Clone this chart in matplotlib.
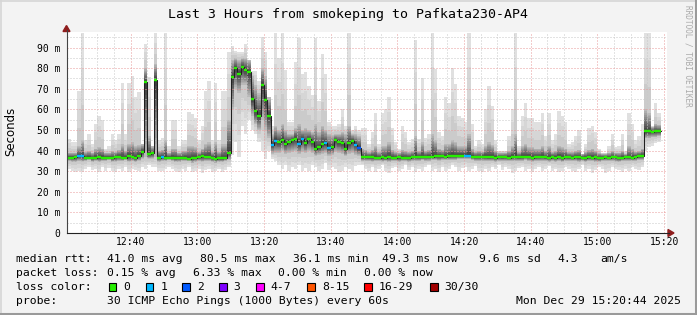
import numpy as np
import matplotlib
matplotlib.use("Agg")
import matplotlib.pyplot as plt
from matplotlib.lines import Line2D
from matplotlib.patches import Polygon, Rectangle
from matplotlib.transforms import Affine2D

# ------------------------------------------------------------------ data
first_minute = 21          # first 1-minute column, minutes after 12:00
view_start = 20.733        # 12:20:44
view_end = 200.733         # 15:20:44

median_ms = [
    36.6, 36.6, 36.8, 37.2, 37.2, 36.4, 36.6, 36.5, 36.5, 36.7,
    36.5, 36.6, 36.6, 36.4, 36.8, 37.0, 36.5, 36.6, 37.2, 36.9,
    36.4, 37.6, 39.3, 73.1, 38.2, 38.6, 74.2, 36.6, 36.8, 36.6,
    36.6, 36.5, 36.4, 36.6, 36.4, 36.6, 36.1, 36.4, 36.6, 36.7,
    37.2, 36.8, 36.8, 36.5, 36.1, 36.2, 36.2, 36.4, 39.0, 75.5,
    80.0, 77.4, 80.5, 79.2, 78.3, 65.0, 59.0, 56.7, 71.8, 64.7,
    57.0, 42.8, 44.8, 44.1, 45.3, 43.2, 44.3, 45.1, 45.6, 43.0,
    45.7, 43.5, 45.4, 44.1, 40.9, 41.5, 43.0, 43.5, 41.4, 41.5,
    45.1, 44.1, 43.5, 40.7, 43.5, 44.6, 42.8, 41.3, 36.7, 36.8,
    36.7, 36.9, 36.6, 36.5, 36.7, 36.3, 36.8, 36.6, 36.5, 36.7,
    36.6, 36.5, 36.6, 36.8, 37.0, 36.9, 36.8, 37.0, 37.1, 37.0,
    37.2, 37.3, 37.2, 37.0, 37.2, 37.4, 37.3, 37.5, 37.5, 37.6,
    37.6, 37.0, 36.9, 36.8, 37.1, 36.9, 36.7, 36.8, 36.6, 36.8,
    36.7, 36.9, 36.6, 36.8, 37.0, 36.7, 36.9, 37.1, 37.0, 36.6,
    36.7, 36.8, 37.0, 36.7, 36.6, 36.7, 36.6, 36.8, 36.5, 36.9,
    36.7, 36.6, 36.9, 36.7, 36.6, 36.5, 36.7, 36.6, 36.8, 36.4,
    36.6, 36.7, 36.6, 36.8, 36.9, 36.5, 36.6, 36.8, 36.7, 36.6,
    37.0, 37.2, 37.4, 49.3, 49.4, 49.2, 49.3, 49.3,
]

loss_pings = [
    0, 0, 0, 1, 1, 0, 0, 0, 0, 0,
    0, 0, 0, 0, 0, 0, 0, 0, 0, 0,
    0, 0, 0, 0, 0, 0, 0, 0, 1, 0,
    0, 0, 0, 0, 0, 0, 0, 0, 0, 0,
    0, 0, 0, 0, 0, 0, 0, 0, 0, 0,
    0, 0, 0, 0, 0, 0, 0, 0, 0, 0,
    0, 1, 1, 0, 0, 0, 0, 0, 0, 1,
    1, 0, 0, 0, 0, 0, 0, 1, 1, 0,
    0, 0, 0, 0, 0, 0, 1, 2, 0, 0,
    0, 0, 0, 0, 0, 0, 0, 0, 0, 0,
    0, 0, 0, 0, 0, 0, 0, 0, 0, 0,
    0, 0, 0, 0, 0, 0, 0, 0, 0, 1,
    1, 0, 0, 0, 0, 0, 0, 0, 0, 0,
    0, 0, 0, 0, 0, 0, 0, 0, 0, 0,
    0, 0, 0, 0, 0, 0, 0, 0, 0, 0,
    0, 0, 0, 0, 0, 0, 0, 0, 0, 0,
    0, 0, 0, 0, 0, 0, 0, 0, 0, 0,
    0, 0, 0, 0, 0, 0, 0, 0,
]

smoke_min = [
    31, 30, 29.5, 30, 29.5, 31, 32, 30.5, 31, 29.5,
    32, 30, 31.5, 30, 29.5, 31, 30, 32, 29.5, 31,
    30.5, 30, 32, 31, 33, 32, 32, 30, 30, 31,
    32, 31, 30, 29.5, 31, 30, 32, 29.5, 30, 31,
    29, 30.5, 31, 29.5, 30, 31, 29.5, 30.5, 32, 38,
    44, 37, 52, 48, 55, 50, 48, 44, 40, 36,
    40, 36, 35, 33, 31, 33, 30, 32, 31, 33,
    30, 31.5, 30, 33, 32, 30, 31, 34, 30.5, 32,
    31, 29.5, 30, 32, 31, 30, 32.5, 33, 33, 31,
    30, 32, 29.5, 31, 33, 30, 29, 31.5, 32, 30,
    31, 33, 30.5, 32, 29.5, 31, 30, 32, 33, 30,
    31, 29.5, 32, 30, 31, 33, 32, 30, 31.5, 32,
    30, 31, 32.5, 30, 29.5, 31, 30, 32, 31, 33,
    30.5, 32, 31, 29, 30, 31.5, 32, 30, 31, 29.5,
    31, 32, 30, 31, 32.5, 30, 31, 29.5, 30, 32,
    31, 30, 29.5, 31, 33, 30, 31, 29, 30.5, 32,
    31, 29, 30, 32, 31, 30.5, 29.5, 31, 30, 32,
    31, 30.5, 32, 40, 41.5, 42, 43.5, 44,
]

smoke_p10 = [
    35, 34.5, 34.5, 35, 34.5, 35, 35.5, 34.5, 35, 34.5,
    35, 35, 35.5, 34.5, 34.5, 35, 35, 35.5, 34.5, 35,
    34.5, 35, 36, 37, 36, 36, 37, 34.5, 35, 35,
    35.5, 35, 34.5, 34.5, 35, 35, 35, 34, 34.5, 35,
    34.5, 35, 35, 34.5, 34, 34.5, 34.5, 35, 35.5, 60,
    70, 68, 72, 72, 66, 57, 53, 50, 55, 50,
    46, 38.5, 39, 39, 40, 38.5, 39, 39.5, 40, 38.5,
    39.5, 39, 40, 39, 37.5, 38, 38.5, 39, 37.5, 38,
    39.5, 39, 38.5, 37.5, 38.5, 39, 38, 37.5, 35, 35,
    35, 34.5, 35, 35, 34.5, 35, 34.5, 35, 35, 34.5,
    35, 35, 34.5, 35, 35, 35, 35.5, 35, 35, 35.5,
    35.5, 35, 35.5, 35.5, 35.5, 35.5, 35.5, 36, 36, 36,
    36, 35.5, 35, 35, 35, 35, 35, 35, 34.5, 35,
    35, 35, 35, 35, 35, 35, 35, 35.5, 35, 34.5,
    35, 35, 35, 35, 34.5, 35, 34.5, 35, 34.5, 35,
    35, 35, 35, 34.5, 35, 34.5, 35, 35, 34.5, 34.5,
    35, 35, 35, 35, 34.5, 34.5, 35, 35, 35, 35,
    35, 35.5, 35.5, 46, 46, 46.5, 46.5, 47,
]

smoke_p90 = [
    39, 39, 39, 42, 45, 39.5, 40, 39, 41, 41.5,
    41, 39, 39, 40, 39.5, 40.5, 43, 40, 43, 44,
    42, 42.5, 43, 80, 47, 42, 82, 40, 40.5, 45,
    39, 41, 41, 39, 40, 40, 42, 42, 41.5, 39.5,
    41, 43, 44, 39.5, 44, 39.5, 43, 43, 55, 84,
    85, 84, 85, 85, 84, 76, 72, 68, 80, 76,
    66, 48, 52, 50, 53, 50, 48, 48, 51, 53,
    50, 51, 50, 49, 53, 49, 52, 50, 48, 47.5,
    48, 48, 49, 48, 52, 48, 48, 47, 41, 40.5,
    39.5, 40.5, 42, 39.5, 42, 42, 44, 40.5, 39.5, 39,
    40.5, 40, 39.5, 40, 47, 40, 44, 40, 40.5, 48,
    45, 41, 40.5, 43, 43, 45, 44, 42, 42, 42,
    48, 41, 39.5, 40, 39.5, 42, 44, 42.5, 40, 39,
    39, 39, 40, 42, 48, 39.5, 42, 43, 41.5, 41.5,
    41, 41, 42, 40, 42, 39.5, 40, 42, 41.5, 41,
    39.5, 39.5, 40, 40.5, 38.5, 39.5, 40.5, 41, 40, 39,
    38.5, 38.5, 39, 40, 39, 39, 40, 38.5, 42, 41,
    39.5, 40, 41, 60, 58, 51.5, 53, 52.5,
]

smoke_max = [
    45.7, 44, 44, 69, 97, 45, 48, 43, 53, 57,
    54.7, 41, 42, 48, 45, 48, 73, 48, 72.7, 76,
    66, 68.5, 42.5, 91.6, 75.5, 40, 97, 45, 46, 97,
    42, 54.7, 54.7, 42, 45, 45, 58.6, 57.8, 56, 45,
    52, 69, 74, 45, 73, 45, 69, 69, 88, 90.8,
    88.5, 88, 88, 91.6, 84, 78.7, 78.7, 73.9, 95, 88,
    62, 52, 97, 85, 97, 79, 54, 54, 83, 94.6,
    77, 78, 71.5, 67, 94.5, 64, 87, 77, 54, 52,
    52, 53, 60, 52, 97, 50, 52, 50, 51, 51,
    43, 49, 58, 43, 58, 60, 66, 51, 44, 41,
    52, 49, 44, 45.5, 93.7, 45.5, 75, 46, 48, 97,
    79.5, 49, 47, 66, 63, 80, 72.5, 57, 56, 54,
    97, 53, 42, 45, 43, 60, 71.5, 61.6, 45, 40,
    40, 40, 47, 60, 97, 42, 57, 63, 56, 56,
    54, 54, 58, 47, 58, 45, 48, 59, 57, 54,
    43, 44, 47, 50, 38.5, 43, 51, 52, 49, 41,
    39, 39, 42, 48, 41.5, 42, 48, 40, 58, 53,
    45, 47, 53, 97, 97, 52, 63, 58,
]

tick_minutes = [40, 60, 80, 100, 120, 140, 160, 180, 200]
tick_labels = ["12:40", "13:00", "13:20", "13:40", "14:00",
               "14:20", "14:40", "15:00", "15:20"]
y_ticks = [0, 10, 20, 30, 40, 50, 60, 70, 80, 90]
y_tick_labels = ["0", "10 m", "20 m", "30 m", "40 m", "50 m",
                 "60 m", "70 m", "80 m", "90 m"]
y_max = 97.4

loss_bins = ["0", "1", "2", "3", "4-7", "8-15", "16-29", "30/30"]
loss_colors = ["#26ee00", "#00b8ff", "#0059ff", "#7e00ff",
               "#ff00ff", "#ff5500", "#ff0000", "#a10000"]

title = "Last 3 Hours from smokeping to Pafkata230-AP4"
stats_rtt = ["median rtt:", "41.0 ms avg", "80.5 ms max", "36.1 ms min",
             "49.3 ms now", "9.6 ms sd", "4.3", "am/s"]
stats_loss = ["packet loss:", "0.15 % avg", "6.33 % max", "0.00 % min",
              "0.00 % now"]
probe_text = ["probe:", "30 ICMP Echo Pings (1000 Bytes) every 60s",
              "Mon Dec 29 15:20:44 2025"]

# ------------------------------------------------------------------ figure
W, H = 697, 315
BG = "#f3f3f3"
MONO = "DejaVu Sans Mono"
fig = plt.figure(figsize=(W / 100, H / 100), dpi=100, facecolor=BG)
pix = Affine2D().scale(1.0 / W, -1.0 / H).translate(0, 1) + fig.transFigure

ax_l, ax_r, ax_t, ax_b = 66.5, 666.5, 32.3, 233.0
ax = fig.add_axes([ax_l / W, 1 - ax_b / H, (ax_r - ax_l) / W, (ax_b - ax_t) / H])
ax.set_facecolor("white")
ax.set_xlim(view_start, view_end)
ax.set_ylim(0, y_max)

med = np.array(median_ms, float)
n = len(med)
mins = first_minute + np.arange(n)
edges = np.append(mins, mins[-1] + 1)
knots_q = [0.0, 0.1, 0.5, 0.9, 1.0]
vals = np.vstack([smoke_min, smoke_p10, med, smoke_p90, smoke_max]).astype(float)

half = 15
for k in range(half):
    ql, qh = k / 30.0, 1 - k / 30.0
    lo = np.array([np.interp(ql, knots_q, vals[:, i]) for i in range(n)])
    hi = np.array([np.interp(qh, knots_q, vals[:, i]) for i in range(n)])
    if k < 3:
        gv = [224, 214, 203][k]
    else:
        gv = 185 - (k - 3) * (185 - 62) / 11.0
    g = gv / 255.0
    ax.fill_between(edges, np.append(lo, lo[-1]), np.append(hi, hi[-1]),
                    step="post", color=(g, g, g), lw=0, zorder=1,
                    antialiased=False)

# grid
ax.set_xticks(tick_minutes)
ax.set_xticklabels(tick_labels, fontsize=7, family=MONO)
ax.set_xticks(np.arange(25, 200, 5), minor=True)
ax.set_yticks(y_ticks)
ax.set_yticklabels(y_tick_labels, fontsize=7, family=MONO)
ax.set_yticks(np.arange(5, 97, 5), minor=True)
ax.tick_params(which="both", length=0)
ax.tick_params(axis="x", pad=3.2)
ax.tick_params(axis="y", pad=4.3)
ax.grid(which="minor", color="#c8c8c8", linestyle=(0, (1, 2)), lw=0.72)
ax.grid(which="major", color="#e89a9a", linestyle=(0, (1, 2)), lw=0.72)
ax.set_axisbelow(False)
for s in ax.spines.values():
    s.set_visible(False)

# median line (black) + loss coloured segments
ax.step(edges, np.append(med, med[-1]), where="post", color="#202020",
        lw=0.75, zorder=4)


def loss_index(c):
    if c <= 3:
        return c
    if c <= 7:
        return 4
    if c <= 15:
        return 5
    if c <= 29:
        return 6
    return 7


seg_colors = [loss_colors[loss_index(c)] for c in loss_pings]
ax.hlines(med, mins, mins + 1, colors=seg_colors, lw=1.7, zorder=5)

# axes lines and arrows (pixel coords)
fig.add_artist(Line2D([ax_l, ax_l], [ax_b, 30], color="#444444", lw=0.8, transform=pix))
fig.add_artist(Line2D([ax_l, 669], [ax_b, ax_b], color="#222222", lw=0.8, transform=pix))
fig.add_artist(Polygon([[ax_l, 25.5], [ax_l - 3.5, 31.5], [ax_l + 3.5, 31.5]],
                       closed=True, color="#8f1d1d", transform=pix))
fig.add_artist(Polygon([[674, ax_b], [668, ax_b - 3.5], [668, ax_b + 3.5]],
                       closed=True, color="#8f1d1d", transform=pix))

# frame (3D-ish)
fig.add_artist(Line2D([0, W], [0.8, 0.8], color="#d6d6d6", lw=1.2, transform=pix))
fig.add_artist(Line2D([0.8, 0.8], [0, H], color="#d6d6d6", lw=1.2, transform=pix))
fig.add_artist(Line2D([0, W], [H - 1.5, H - 1.5], color="#9a9a9a", lw=2.2, transform=pix))
fig.add_artist(Line2D([W - 1.5, W - 1.5], [0, H], color="#9a9a9a", lw=2.2, transform=pix))


def ptext(x, y, s, **kw):
    kw.setdefault("family", MONO)
    kw.setdefault("fontsize", 8.2)
    kw.setdefault("va", "center")
    kw.setdefault("ha", "left")
    fig.text(x, y, s, transform=pix, **kw)


ptext(348, 14.5, title, fontsize=9.5, ha="center")
ptext(11, 131, "Seconds", family="DejaVu Sans", fontsize=8.5, rotation=90, ha="center")
ptext(688, 5, "RRDTOOL / TOBI OETIKER", fontsize=5.6, rotation=270, va="top",
      ha="center", color="#aaaaaa")

rtt_x = [16, 107.3, 200, 293.3, 382.2, 479.1, 557.8, 600]
for x, s in zip(rtt_x, stats_rtt):
    ptext(x, 259.3, s)
loss_x = [16, 107.3, 192.7, 278.3, 364.4]
for x, s in zip(loss_x, stats_loss):
    ptext(x, 273.3, s)
ptext(16, 287.3, "loss color:")
box_x = [108.7, 145.7, 182.3, 219, 256, 307.3, 364.4, 430]
for x, lab, c in zip(box_x, loss_bins, loss_colors):
    fig.add_artist(Rectangle((x, 283.3), 7.5, 8.0, facecolor=c, edgecolor="black",
                             lw=0.8, transform=pix))
    ptext(x + 14.6, 287.3, lab)
ptext(16, 301, probe_text[0])
ptext(107.3, 301, probe_text[1])
ptext(681, 301, probe_text[2], ha="right")

fig.savefig("out.png", dpi=100, facecolor=BG)
